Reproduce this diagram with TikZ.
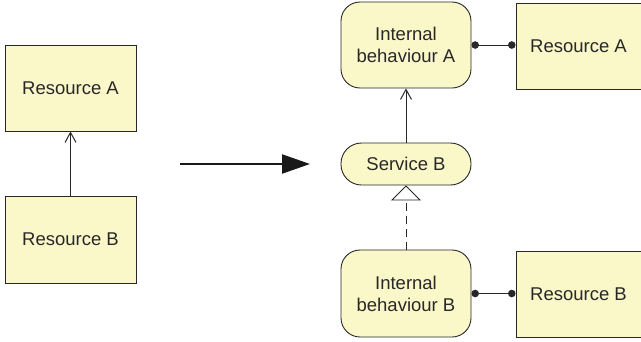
\documentclass[tikz,border=0pt]{standalone}
\usepackage{fontspec}
\setmainfont{Liberation Sans}
\usetikzlibrary{arrows.meta}
\definecolor{boxfill}{RGB}{250,248,200}
\definecolor{boxline}{RGB}{40,40,40}
\begin{document}
\begin{tikzpicture}[x=1pt,y=-1pt,
  every node/.style={font=\fontsize{18.5}{22}\selectfont, text=boxline, align=center, inner sep=0pt},
  resbox/.style={draw=boxline, fill=boxfill, line width=0.9pt, minimum width=131pt, minimum height=86pt},
  behbox/.style={draw=boxline, fill=boxfill, line width=0.9pt, rounded corners=19pt, minimum width=130pt, minimum height=86pt},
  svcbox/.style={draw=boxline, fill=boxfill, line width=0.9pt, rounded corners=20.5pt, minimum width=130pt, minimum height=42pt},
  conn/.style={draw=boxline, line width=1pt},
  dotconn/.style={conn, {Circle[length=7.5pt]}-{Circle[length=7.5pt]}},
  openarr/.style={conn, -{Straight Barb[length=10pt, width=11pt, line width=1pt]}}
]
\useasboundingbox (0,0) rectangle (641,341);
% left side
\node[resbox] (lra) at (70.5,88) {Resource A};
\node[resbox, minimum height=87pt] (lrb) at (70.5,239.5) {Resource B};
\draw[openarr] (lrb.north) -- (lra.south);
% big arrow
\coordinate (bs) at (180,164);
\coordinate (be) at (310,164);
\draw[line width=2.3pt, color=black!90, -{Triangle[length=28pt, width=19pt]}] (bs) -- (be);
% right side
\node[behbox] (iba) at (406,45) {Internal\\behaviour A};
\node[resbox, minimum width=125pt] (rra) at (578.5,46) {Resource A};
\node[svcbox] (svb) at (406,164) {Service B};
\node[behbox, minimum height=87pt] (ibb) at (406,293.5) {Internal\\behaviour B};
\node[resbox, minimum width=125pt] (rrb) at (578.5,294) {Resource B};
\draw[openarr] (svb.north) -- (iba.south);
\draw[conn, dash pattern=on 8pt off 5pt, -{Triangle[open, length=15pt, width=30pt, fill=white, line width=0.9pt]}] (ibb.north) -- (svb.south);
\draw[dotconn] (iba.east) -- (iba.east -| rra.west);
\draw[dotconn] (ibb.east) -- (ibb.east -| rrb.west);
\end{tikzpicture}
\end{document}
